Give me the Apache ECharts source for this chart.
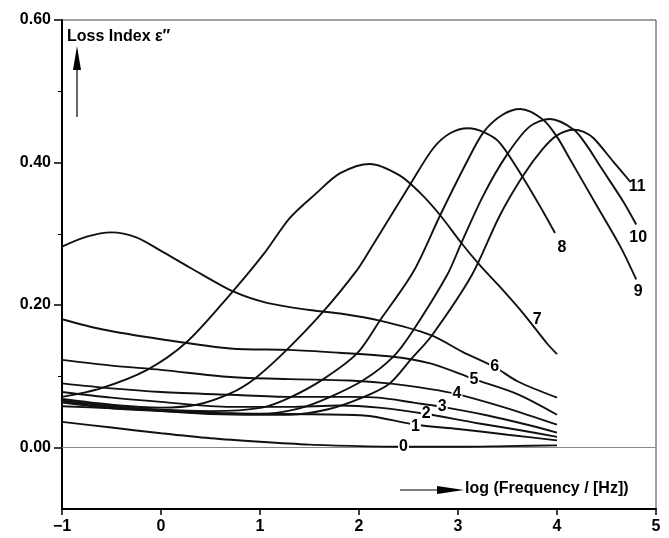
<!DOCTYPE html>
<html>
<head>
<meta charset="utf-8">
<script src="https://cdn.jsdelivr.net/npm/echarts@6/dist/echarts.min.js"></script>
<style>html,body{margin:0;padding:0;background:#fff}#c{width:669px;height:538px}</style>
</head>
<body>
<div id="c"></div>
<script>
// x = log(Frequency / Hz), y = loss index eps''
const curve0 = [[-1,0.036],[-0.5,0.028],[0,0.020],[0.5,0.013],[1,0.008],[1.5,0.004],[2,0.002],[2.5,0.001],[3,0.001],[3.5,0.002],[4,0.003]];
const curve1 = [[-1,0.058],[-0.5,0.055],[0,0.052],[0.7,0.048],[1.3,0.047],[2.05,0.045],[2.57,0.032],[3,0.026],[3.5,0.018],[4,0.010]];
const curve2 = [[-1,0.078],[-0.5,0.070],[0,0.064],[0.7,0.057],[1.3,0.057],[1.8,0.059],[2.2,0.056],[2.68,0.047],[3.2,0.034],[3.6,0.025],[4,0.015]];
const curve3 = [[-1,0.090],[-0.5,0.083],[0,0.078],[0.7,0.074],[1.3,0.071],[1.9,0.071],[2.2,0.070],[2.55,0.063],[2.84,0.057],[3.3,0.045],[3.7,0.032],[4,0.021]];
const curve4 = [[-1,0.123],[-0.5,0.115],[0,0.109],[0.7,0.099],[1.3,0.096],[1.9,0.094],[2.3,0.090],[2.72,0.082],[2.99,0.075],[3.5,0.055],[4,0.032]];
const curve5 = [[-1,0.180],[-0.6,0.166],[0,0.152],[0.7,0.139],[1.3,0.137],[1.8,0.133],[2.3,0.128],[2.72,0.118],[3.16,0.096],[3.6,0.075],[4,0.046]];
const curve6 = [[-1,0.282],[-0.75,0.296],[-0.5,0.302],[-0.25,0.295],[0,0.276],[0.3,0.252],[0.73,0.219],[1.07,0.203],[1.5,0.193],[1.81,0.188],[2.21,0.178],[2.72,0.158],[3.05,0.134],[3.37,0.113],[3.6,0.093],[4,0.070]];
const curve7 = [[-1,0.071],[-0.61,0.083],[-0.14,0.109],[0.26,0.148],[0.70,0.215],[1.04,0.272],[1.30,0.322],[1.57,0.357],[1.81,0.385],[2.11,0.398],[2.41,0.382],[2.62,0.357],[2.82,0.326],[3.04,0.286],[3.22,0.256],[3.42,0.226],[3.66,0.188],[3.90,0.146],[4,0.131]];
const curve8 = [[-1,0.068],[-0.5,0.060],[0,0.056],[0.36,0.060],[0.70,0.076],[0.95,0.097],[1.27,0.137],[1.64,0.191],[1.98,0.249],[2.10,0.275],[2.52,0.370],[2.75,0.420],[2.92,0.441],[3.10,0.448],[3.27,0.442],[3.42,0.428],[3.66,0.378],[3.86,0.331],[3.98,0.301]];
const curve9 = [[-1,0.066],[-0.5,0.058],[0,0.053],[0.5,0.051],[1.02,0.056],[1.30,0.070],[1.64,0.096],[1.98,0.132],[2.21,0.178],[2.55,0.247],[2.82,0.326],[3.09,0.401],[3.26,0.443],[3.45,0.467],[3.63,0.475],[3.86,0.460],[4.0,0.436],[4.13,0.405],[4.37,0.347],[4.64,0.282],[4.80,0.236]];
const curve10 = [[-1,0.064],[-0.5,0.056],[0,0.052],[0.5,0.048],[1.0,0.047],[1.4,0.055],[1.71,0.071],[2.05,0.095],[2.35,0.128],[2.55,0.165],[2.89,0.242],[3.04,0.289],[3.26,0.355],[3.49,0.410],[3.72,0.450],[3.93,0.461],[4.17,0.446],[4.30,0.424],[4.43,0.396],[4.67,0.345],[4.80,0.313]];
const curve11 = [[-1,0.063],[-0.5,0.055],[0,0.051],[0.5,0.047],[1.0,0.046],[1.3,0.046],[1.7,0.054],[2.05,0.071],[2.31,0.090],[2.52,0.123],[2.74,0.158],[3.14,0.242],[3.42,0.325],[3.66,0.382],[3.85,0.418],[4.0,0.438],[4.17,0.446],[4.27,0.443],[4.37,0.434],[4.57,0.401],[4.74,0.373]];
const curves = [curve0,curve1,curve2,curve3,curve4,curve5,curve6,curve7,curve8,curve9,curve10,curve11];
const curveNames = ['0','1','2','3','4','5','6','7','8','9','10','11'];
// label anchor points (data units)
const curveLabelAt = [[2.45,0.001],[2.57,0.030],[2.68,0.047],[2.84,0.057],[2.99,0.075],[3.16,0.096],[3.37,0.113],[3.80,0.179],[4.05,0.280],[4.82,0.219],[4.82,0.294],[4.81,0.366]];
const yTickLabels = [0, 0.2, 0.4, 0.6];
const yMinorTicks = [0.1, 0.3, 0.5];

const FONT = '"Liberation Sans", Arial, Helvetica, sans-serif';
const chart = echarts.init(document.getElementById('c'), null, {renderer: 'canvas'});

const series = curves.map((c, i) => ({
  type: 'line',
  name: curveNames[i],
  data: c,
  smooth: 0.3,
  showSymbol: false,
  symbol: 'none',
  lineStyle: {color: '#111', width: 1.9},
  z: 3,
  markPoint: {
    symbol: 'circle', symbolSize: 1,
    itemStyle: {color: 'rgba(0,0,0,0)'},
    z: 5,
    label: {
      show: true, position: 'inside', formatter: curveNames[i],
      color: '#000', fontFamily: FONT, fontWeight: 'bold', fontSize: 16,
      backgroundColor: i <= 6 ? '#fff' : 'transparent', padding: [0, 1]
    },
    data: [{coord: curveLabelAt[i]}]
  },
  markLine: i === 0 ? {
    silent: true, symbol: 'none', z: 2,
    lineStyle: {color: '#888', width: 1, type: 'solid'},
    label: {show: false},
    data: [{yAxis: 0}]
  } : undefined
}));

chart.setOption({
  animation: false,
  backgroundColor: '#fff',
  grid: {left: 62, right: 13, top: 20, bottom: 29, show: true, borderColor: '#444', borderWidth: 1, containLabel: false},
  xAxis: {
    type: 'value', min: -1, max: 5, interval: 1,
    axisLine: {show: true, onZero: false, lineStyle: {color: '#000', width: 2}},
    axisTick: {show: true, length: 6, lineStyle: {color: '#000', width: 1.5}},
    splitLine: {show: false},
    axisLabel: {
      margin: 10, color: '#000', fontFamily: FONT, fontWeight: 'bold', fontSize: 16,
      formatter: v => (v < 0 ? '\u2212' + Math.abs(v) : String(v))
    }
  },
  yAxis: [{
    type: 'value', min: -0.0863, max: 0.6,
    axisLine: {show: true, onZero: false, lineStyle: {color: '#000', width: 2}},
    axisTick: {show: true, length: 8, customValues: yTickLabels, lineStyle: {color: '#000', width: 1.5}},
    splitLine: {show: false},
    axisLabel: {
      customValues: yTickLabels,
      margin: 11, color: '#000', fontFamily: FONT, fontWeight: 'bold', fontSize: 16,
      formatter: v => v.toFixed(2)
    }
  }, {
    type: 'value', min: -0.0863, max: 0.6, position: 'left', offset: 0,
    axisLine: {show: false, onZero: false},
    axisTick: {show: true, length: 4, customValues: yMinorTicks, lineStyle: {color: '#000', width: 1}},
    splitLine: {show: false},
    axisLabel: {show: false}
  }],
  series: series,
  graphic: [
    {type: 'line', shape: {x1: 77, y1: 117, x2: 77, y2: 66}, style: {stroke: '#000', lineWidth: 1.2}},
    {type: 'polygon', shape: {points: [[77, 46], [73, 70], [81, 70]]}, style: {fill: '#000'}},
    {type: 'text', left: 67, top: 29, style: {text: 'Loss Index \u03b5\u2033', fill: '#000', font: 'bold 16px ' + FONT}},
    {type: 'line', shape: {x1: 400, y1: 490, x2: 444, y2: 490}, style: {stroke: '#000', lineWidth: 1.2}},
    {type: 'polygon', shape: {points: [[464, 490], [437, 486], [437, 494]]}, style: {fill: '#000'}},
    {type: 'text', left: 465, top: 481, style: {text: 'log (Frequency / [Hz])', fill: '#000', font: 'bold 16px ' + FONT}}
  ]
});
</script>
</body>
</html>
